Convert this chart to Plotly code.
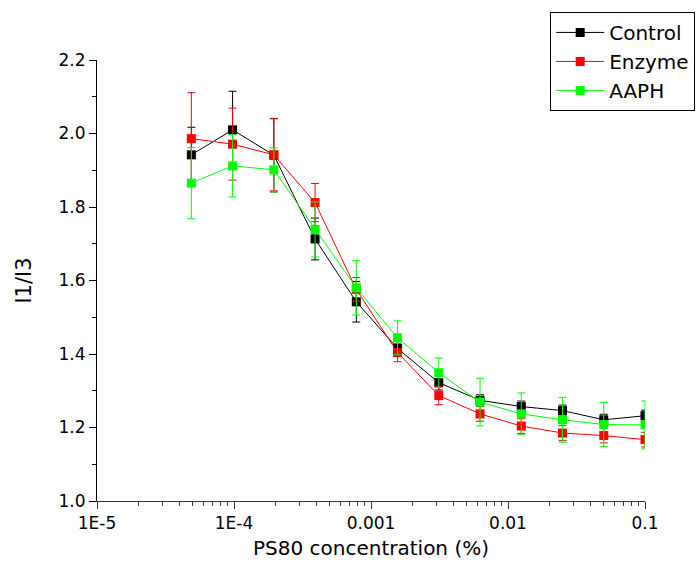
import plotly.graph_objects as go

conc = [0.1 / 2**k for k in range(11, -1, -1)]

control = [1.942, 2.010, 1.941, 1.713, 1.542, 1.415, 1.322, 1.274, 1.257, 1.246, 1.221, 1.232]
control_err = [0.075, 0.105, 0.100, 0.057, 0.055, 0.020, 0.020, 0.015, 0.015, 0.015, 0.015, 0.015]

enzyme = [1.986, 1.971, 1.942, 1.812, 1.576, 1.404, 1.287, 1.237, 1.204, 1.185, 1.178, 1.167]
enzyme_err = [0.125, 0.098, 0.098, 0.052, 0.032, 0.025, 0.025, 0.020, 0.020, 0.020, 0.020, 0.020]

aaph = [1.865, 1.912, 1.901, 1.739, 1.580, 1.444, 1.349, 1.269, 1.237, 1.221, 1.208, 1.207]
aaph_err = [0.097, 0.085, 0.060, 0.075, 0.074, 0.046, 0.040, 0.065, 0.057, 0.061, 0.060, 0.065]

x_tickvals = [1e-5, 1e-4, 1e-3, 1e-2, 1e-1]
x_ticktext = ["1E-5", "1E-4", "0.001", "0.01", "0.1"]
x_minor = [m * 10.0**d for d in range(-5, -1) for m in range(2, 10)]

series = [
    ("Control", control, control_err, "#000000"),
    ("Enzyme", enzyme, enzyme_err, "#FF0000"),
    ("AAPH", aaph, aaph_err, "#00FF00"),
]

fig = go.Figure()
for name, vals, errs, color in series:
    fig.add_trace(go.Scatter(
        x=conc, y=vals, name=name, mode="lines+markers",
        line=dict(color=color, width=1),
        marker=dict(symbol="square", size=9, color=color),
        error_y=dict(type="data", array=errs, visible=True, color=color, thickness=1, width=4),
    ))

fig.update_layout(
    width=697, height=570,
    margin=dict(l=97, r=52, t=60, b=69, autoexpand=False),
    paper_bgcolor="white", plot_bgcolor="white",
    font=dict(family="DejaVu Sans, Arial, sans-serif", size=17, color="black"),
    showlegend=True,
    legend=dict(
        x=0.827, y=1.109, xanchor="left", yanchor="top",
        bordercolor="black", borderwidth=1, bgcolor="white",
        font=dict(size=20), tracegroupgap=0, itemwidth=48,
    ),
)

fig.update_xaxes(
    type="log", range=[-5, -1],
    tickmode="array", tickvals=x_tickvals, ticktext=x_ticktext,
    ticks="outside", ticklen=7, tickcolor="#333333", tickwidth=1,
    showline=True, linecolor="#333333", linewidth=1,
    showgrid=False, zeroline=False,
    minor=dict(ticks="outside", ticklen=4, tickcolor="#333333", tickmode="array",
               tickvals=x_minor, showgrid=False),
    title=dict(text="PS80 concentration (%)", font=dict(size=20), standoff=8),
    tickfont=dict(size=17),
)
fig.update_yaxes(
    range=[1.0, 2.2], dtick=0.2, tick0=1.0, tickformat=".1f",
    ticks="outside", ticklen=7, tickcolor="black", tickwidth=1,
    showline=True, linecolor="black", linewidth=1,
    showgrid=False, zeroline=False,
    minor=dict(ticks="outside", ticklen=4, tickcolor="black", dtick=0.1, showgrid=False),
    title=dict(text="I1/I3", font=dict(size=21), standoff=21),
    tickfont=dict(size=17),
)

fig.write_html("out.html")
